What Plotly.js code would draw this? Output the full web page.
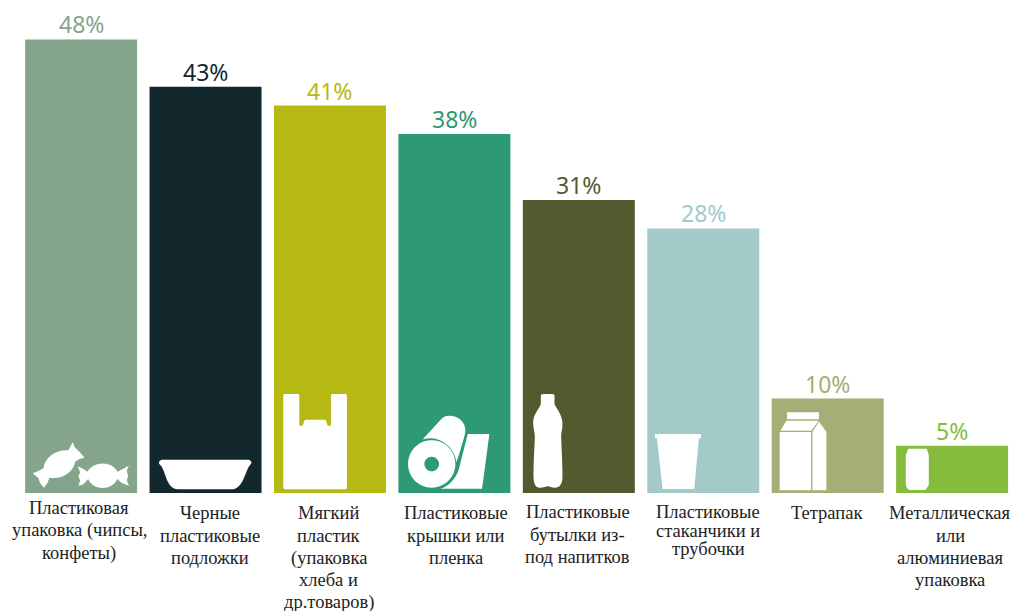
<!DOCTYPE html>
<html>
<head>
<meta charset="utf-8">
<script src="https://cdn.plot.ly/plotly-3.0.1.min.js"></script>
<style>html,body{margin:0;padding:0;background:#fff;overflow:hidden}</style>
</head>
<body>
<div id="chart" style="width:1013px;height:611px"></div>
<script>
// Share of respondents per packaging type, percent
const shares = [48, 43, 41, 38, 31, 28, 10, 5];
const barColors = ['#84a58c', '#12282c', '#b6b814', '#2e9a75', '#525a2f', '#a3cac8', '#a6ad75', '#86bc3d'];
const categoryLines = [
  ['Пластиковая', 'упаковка (чипсы,', 'конфеты)'],
  ['Черные', 'пластиковые', 'подложки'],
  ['Мягкий', 'пластик', '(упаковка', 'хлеба и', 'др.товаров)'],
  ['Пластиковые', 'крышки или', 'пленка'],
  ['Пластиковые', 'бутылки из-', 'под напитков'],
  ['Пластиковые', 'стаканчики и', 'трубочки'],
  ['Тетрапак'],
  ['Металлическая', 'или', 'алюминиевая', 'упаковка']
];

// Label layout: first baseline below the axis, line spacing and horizontal nudge, px
const labelFirstDrop = [21, 26, 26, 26, 25, 25, 26, 26];
const labelLeading = [22.5, 22.5, 22.3, 22.5, 22.5, 18.5, 22, 22.3];
const labelNudge = [-2, 4, -1, 2, -1, 5, -1, -2];
const labelFontSize = 18.5;

// Circle as four cubic segments, so icon paths stay in a single command set
function circle(cx, cy, r) {
  const k = r * 0.5523;
  return `M ${cx - r} ${cy} C ${cx - r} ${cy - k} ${cx - k} ${cy - r} ${cx} ${cy - r} ` +
    `C ${cx + k} ${cy - r} ${cx + r} ${cy - k} ${cx + r} ${cy} ` +
    `C ${cx + r} ${cy + k} ${cx + k} ${cy + r} ${cx} ${cy + r} ` +
    `C ${cx - k} ${cy + r} ${cx - r} ${cy + k} ${cx - r} ${cy} Z `;
}

// Icons are authored on a 3x grid; ox/oy mark the bar's bottom-left corner on that grid
const icons = [
  { i: 0, ox: 75, oy: 342, d:
    'M 130 268 C 135 235 165 212 205 214 L 212 200 L 218 190 L 224 205 L 238 218 L 253 236 L 238 240 L 225 248 ' +
    'C 222 275 190 302 148 296 L 142 312 L 131 326 L 120 312 L 115 298 L 98 283 L 115 276 Z ' +
    'M 262 278 C 280 245 336 245 352 278 L 372 268 L 386 260 L 380 275 L 384 290 L 380 305 L 387 320 L 365 312 L 352 300 ' +
    'C 335 336 280 336 264 300 L 250 316 L 235 320 L 240 305 L 235 292 L 240 280 L 233 262 L 250 270 Z' },
  { i: 1, ox: 450, oy: 342, d:
    'M 490 242 L 745 242 C 752 242 757 248 755 254 C 735 272 735 330 695 331 L 535 331 ' +
    'C 498 330 500 272 480 256 C 476 250 480 242 490 242 Z' },
  { i: 2, ox: 822, oy: 342, d:
    'M 854 45 L 894 45 C 897 45 898 47 898 50 L 898 140 L 908 140 L 913 126 C 914 122 918 122 920 122 L 972 122 ' +
    'C 976 122 978 124 979 127 L 983 140 L 993 140 L 993 50 C 993 47 995 45 998 45 L 1036 45 C 1039 45 1041 47 1041 50 ' +
    'L 1041 325 C 1041 329 1039 331 1036 331 L 855 331 C 852 331 850 329 850 325 L 850 50 C 850 47 851 45 854 45 Z' },
  { i: 3, ox: 24, oy: 342, d:
    circle(124, 255, 71) + circle(124, 255, 22) +
    'M 97 181 L 155 118 C 175 100 228 115 225 158 C 222 175 210 215 198 250 C 195 215 160 175 115 178 Z ' +
    'M 232 165 L 297 165 L 275 329 L 150 329 C 175 322 195 300 205 272 Z' },
  { i: 4, ox: 399, oy: 342, d:
    'M 460 45 L 488 45 C 492 45 494 47 494 52 L 494 75 C 494 80 518 105 518 135 C 518 150 514 160 514 172 ' +
    'C 514 190 518 240 518 290 C 518 315 510 326 495 326 C 485 326 480 322 474 322 C 468 322 462 326 450 326 ' +
    'C 436 326 431 312 431 290 C 431 240 435 190 435 172 C 435 160 430 150 430 130 C 430 105 453 82 453 75 ' +
    'L 453 52 C 453 47 455 45 460 45 Z' },
  { i: 5, ox: 771, oy: 342, d:
    'M 794 165 L 932 165 L 932 178 L 926 178 L 912 330 L 817 330 L 800 178 L 794 178 Z' },
  { i: 6, ox: 216, oy: 369, d:
    'M 262 127 L 358 127 L 358 148 L 262 148 Z M 260 152 L 357 152 L 335 182 L 242 182 Z ' +
    'M 240 186 L 334 186 L 334 361 L 240 361 Z M 338 185 L 358 155 L 380 185 L 380 361 L 338 361 Z' },
  { i: 7, ox: 588, oy: 369, d:
    'M 627 236 L 676 236 C 680 236 682 238 682 242 L 686 256 L 686 345 L 680 354 C 677 359 675 360 672 360 L 630 360 ' +
    'C 625 360 622 358 620 352 L 617 345 L 617 256 L 622 242 C 622 238 624 236 627 236 Z' }
];

const HALF_BAR_PX = 56;

// Rewrites grid points into pixel offsets from the bar's centre and the axis baseline
function toAnchored(icon) {
  return icon.d.replace(/(-?[\d.]+) (-?[\d.]+)/g, (m, x, y) =>
    `${((x - icon.ox) / 3 - HALF_BAR_PX).toFixed(2)} ${((icon.oy - y) / 3).toFixed(2)}`);
}

const iconShapes = icons.map(icon => ({
  type: 'path',
  xref: 'x', yref: 'y',
  xsizemode: 'pixel', ysizemode: 'pixel',
  xanchor: icon.i, yanchor: 0,
  path: toAnchored(icon),
  fillcolor: '#ffffff',
  fillrule: 'evenodd',
  line: { width: 0 },
  layer: 'above'
}));

const categoryAnnotations = [];
categoryLines.forEach((lines, i) => {
  lines.forEach((line, n) => {
    categoryAnnotations.push({
      x: i, y: 0, xref: 'x', yref: 'y',
      text: line,
      showarrow: false,
      xanchor: 'center', yanchor: 'middle',
      xshift: labelNudge[i],
      yshift: -(labelFirstDrop[i] + n * labelLeading[i]) + labelFontSize * 0.3,
      font: { family: '"Liberation Serif", serif', size: labelFontSize, color: '#222222' }
    });
  });
});

// Percent labels sit a fixed gap above each bar top
const valueAnnotations = shares.map((v, i) => ({
  x: i, y: v, xref: 'x', yref: 'y',
  text: v + '%',
  showarrow: false,
  xanchor: 'center', yanchor: 'bottom',
  yshift: -3,
  font: { family: '"Noto Sans", sans-serif', size: 23, color: barColors[i] }
}));

const trace = {
  type: 'bar',
  x: shares.map((_, i) => i),
  y: shares,
  width: 0.9,
  marker: { color: barColors, line: { width: 0 } },
  cliponaxis: false,
  hovertemplate: '%{y}%<extra></extra>'
};

const layout = {
  width: 1013,
  height: 611,
  margin: { l: 0, r: 0, t: 0, b: 118 },
  paper_bgcolor: '#ffffff',
  plot_bgcolor: '#ffffff',
  showlegend: false,
  xaxis: { range: [-0.6518, 7.4893], visible: false, fixedrange: true },
  yaxis: { range: [0, 52.17], visible: false, fixedrange: true },
  shapes: iconShapes,
  annotations: valueAnnotations.concat(categoryAnnotations)
};

Plotly.newPlot('chart', [trace], layout, { displayModeBar: false });
</script>
</body>
</html>
